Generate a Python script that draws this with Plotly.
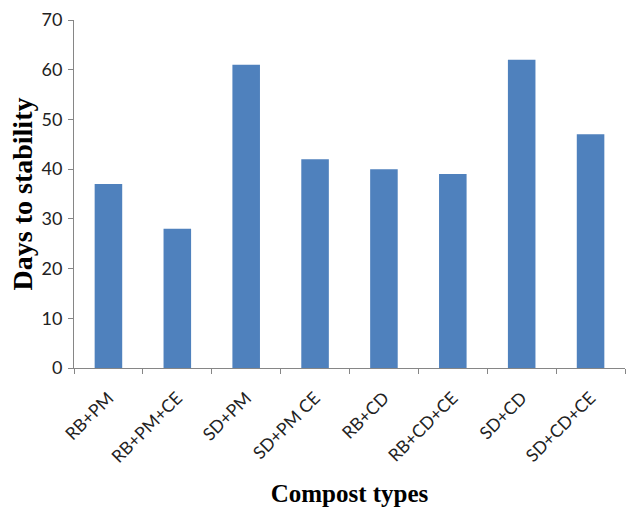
import plotly.graph_objects as go

compost_types = ["RB+PM", "RB+PM+CE", "SD+PM", "SD+PM CE",
                 "RB+CD", "RB+CD+CE", "SD+CD", "SD+CD+CE"]
days_to_stability = [37, 28, 61, 42, 40, 39, 62, 47]

bar_color = "#4F81BD"
axis_color = "#868686"

fig = go.Figure(
    go.Bar(x=compost_types, y=days_to_stability, marker_color=bar_color,
           marker_line_width=0)
)

fig.update_layout(
    width=629, height=512,
    margin=dict(l=74, r=4, t=20, b=144),
    plot_bgcolor="white", paper_bgcolor="white",
    bargap=0.6,
    showlegend=False,
)

fig.update_xaxes(
    showline=True, linecolor=axis_color, linewidth=1,
    ticks="outside", tickson="boundaries", ticklen=5, tickcolor=axis_color,
    tickangle=-45, ticklabelstandoff=12,
    tickfont=dict(family="Lato", size=17.5, color="#222222"),
    showgrid=False,
    title=dict(text="Compost types",
               font=dict(family="Liberation Serif", size=25, color="black",
                         weight="bold"),
               standoff=18),
)

fig.update_yaxes(
    range=[0, 70], dtick=10,
    showline=True, linecolor=axis_color, linewidth=1,
    ticks="outside", ticklen=5, tickcolor=axis_color,
    ticklabelstandoff=2,
    tickfont=dict(family="Lato", size=18, color="#222222"),
    showgrid=False, zeroline=False,
    title=dict(text="Days to stability",
               font=dict(family="Liberation Serif", size=28, color="black",
                         weight="bold"),
               standoff=0),
)

fig.write_html("out.html")
